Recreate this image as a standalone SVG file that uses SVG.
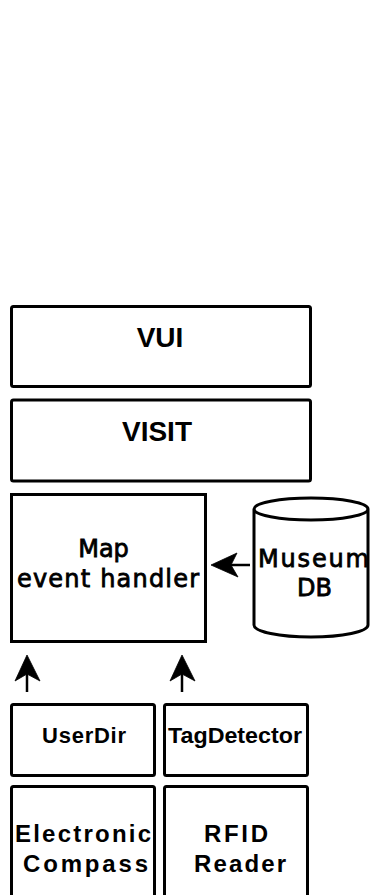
<svg xmlns="http://www.w3.org/2000/svg" width="371" height="895" viewBox="0 0 371 895">
<style>
.box{fill:none;stroke:#000;stroke-width:3}
.t1{font-family:"Liberation Sans",Arial,sans-serif;font-weight:bold;fill:#000}
.t2{font-family:"DejaVu Sans",Verdana,sans-serif;fill:#000;stroke:#000;stroke-width:0.8}
.ln{stroke:#000;stroke-width:2.5;fill:none}
.ah{fill:#000;stroke:#000;stroke-width:0.8;stroke-linejoin:miter}
</style>
<rect x="0" y="0" width="371" height="895" fill="#fff"/>
<g id="vui">
<rect class="box" x="11.5" y="306.5" width="299" height="80" rx="2"/>
<text class="t1" x="160" y="347" font-size="28" text-anchor="middle">VUI</text>
</g>
<g id="visit">
<rect class="box" x="11.5" y="400" width="299" height="81" rx="2"/>
<text class="t1" x="157" y="441" font-size="28" text-anchor="middle">VISIT</text>
</g>
<g id="map">
<rect class="box" x="11.5" y="494.5" width="194" height="147"/>
<text class="t2" x="103.5" y="557" font-size="24" text-anchor="middle">Map</text>
<text class="t2" x="17" y="587" font-size="24" textLength="182" lengthAdjust="spacing">event handler</text>
</g>
<g id="museumdb">
<path class="box" d="M254,509 V625 A57,12 0 0 0 368,625 V509 A57,11 0 0 0 254,509 A57,11 0 0 0 368,509"/>
<text class="t2" x="258" y="567" font-size="24" textLength="111" lengthAdjust="spacing">Museum</text>
<text class="t2" x="314.5" y="596" font-size="24" text-anchor="middle">DB</text>
</g>
<g id="userdir">
<rect class="box" x="11.5" y="704.5" width="143" height="71" rx="2"/>
<text class="t1" x="42" y="742.5" font-size="22" textLength="84" lengthAdjust="spacing">UserDir</text>
</g>
<g id="tagdetector">
<rect class="box" x="164.5" y="704.5" width="143" height="71" rx="2"/>
<text class="t1" x="168" y="742.5" font-size="22" textLength="134" lengthAdjust="spacingAndGlyphs">TagDetector</text>
</g>
<g id="compass">
<rect class="box" x="11.5" y="786.5" width="143" height="120" rx="2"/>
<text class="t1" x="15" y="842" font-size="24" textLength="136" lengthAdjust="spacing">Electronic</text>
<text class="t1" x="23" y="872" font-size="24" textLength="125" lengthAdjust="spacing">Compass</text>
</g>
<g id="rfid">
<rect class="box" x="164.5" y="786.5" width="143" height="120" rx="2"/>
<text class="t1" x="204" y="842" font-size="24" textLength="64" lengthAdjust="spacing">RFID</text>
<text class="t1" x="194" y="872" font-size="24" textLength="92" lengthAdjust="spacing">Reader</text>
</g>
<g id="connectors">
<line class="ln" x1="250" y1="565" x2="228" y2="565"/>
<polygon class="ah" points="211,565 237,553 231,565 238,577"/>
<line class="ln" x1="27" y1="692" x2="27" y2="672"/>
<polygon class="ah" points="27,655 15,681 27,674 40,681"/>
<line class="ln" x1="182" y1="692" x2="182" y2="672"/>
<polygon class="ah" points="182,655 170,681 182,674 195,681"/>
</g>
</svg>
